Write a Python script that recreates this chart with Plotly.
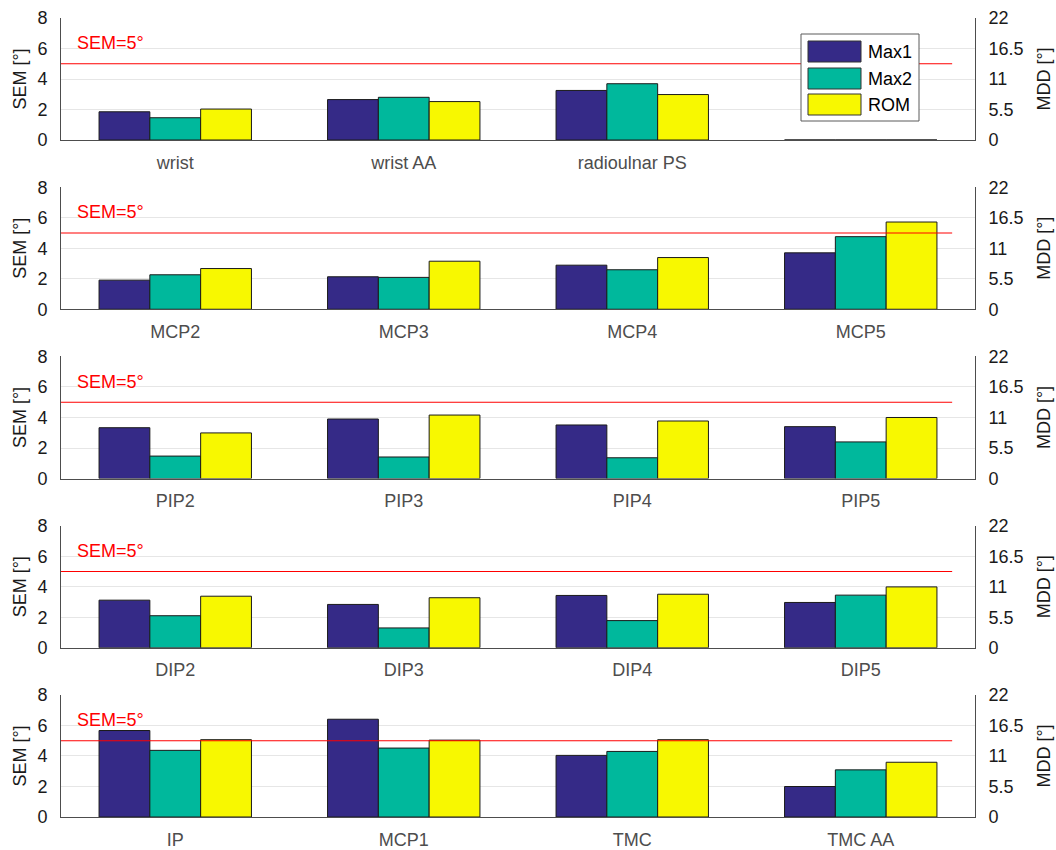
import plotly.graph_objects as go

# ---------------- data ----------------
categories = [
    ["wrist", "wrist AA", "radioulnar PS", ""],
    ["MCP2", "MCP3", "MCP4", "MCP5"],
    ["PIP2", "PIP3", "PIP4", "PIP5"],
    ["DIP2", "DIP3", "DIP4", "DIP5"],
    ["IP", "MCP1", "TMC", "TMC AA"],
]
max1 = [
    [1.85, 2.65, 3.25, 0.0],
    [1.91, 2.13, 2.89, 3.70],
    [3.33, 3.90, 3.51, 3.40],
    [3.12, 2.84, 3.43, 2.97],
    [5.67, 6.41, 4.04, 2.00],
]
max2 = [
    [1.46, 2.80, 3.69, 0.0],
    [2.26, 2.09, 2.59, 4.76],
    [1.47, 1.41, 1.36, 2.40],
    [2.10, 1.30, 1.78, 3.45],
    [4.37, 4.52, 4.30, 3.09],
]
rom = [
    [2.03, 2.52, 2.98, 0.0],
    [2.67, 3.15, 3.39, 5.72],
    [2.99, 4.16, 3.77, 4.00],
    [3.38, 3.28, 3.51, 3.99],
    [5.07, 5.04, 5.07, 3.59],
]
series_names = ["Max1", "Max2", "ROM"]
series_colors = ["#352A87", "#00B89C", "#F8F800"]
sem_ticks = [0, 2, 4, 6, 8]
mdd_ticks = [0, 5.5, 11, 16.5, 22]
mdd_ticklabels = ["0", "5.5", "11", "16.5", "22"]
sem_threshold = 5
threshold_label = "SEM=5°"

# ---------------- layout constants ----------------
FONT = "Liberation Sans, Arial, sans-serif"
FS = 18
W, H = 1056, 850
ML, MR, MT, MB = 61, 81, 18, 33
PW, PH = W - ML - MR, H - MT - MB
n_panels = len(categories)
panel_h = 0.1527
panel_step = (1 - panel_h) / (n_panels - 1)
AXCOL = "#4d4d4d"

fig = go.Figure()
all_series = [max1, max2, rom]

layout = dict(
    width=W, height=H,
    margin=dict(l=ML, r=MR, t=MT, b=MB, autoexpand=False),
    paper_bgcolor="white", plot_bgcolor="white",
    barmode="group", bargap=0.333, bargroupgap=0,
    showlegend=False,
    font=dict(family=FONT, size=FS, color="#1a1a1a"),
)
shapes = []
annotations = []

for p in range(n_panels):
    k = p + 1
    kr = p + 1 + n_panels
    xa = "x" if k == 1 else f"x{k}"
    ya = "y" if k == 1 else f"y{k}"
    yr = f"y{kr}"
    top = 1 - p * panel_step
    dom = [max(0, top - panel_h), min(1, top)]
    xs = list(range(1, len(categories[p]) + 1))
    for s, vals in enumerate(all_series):
        fig.add_trace(go.Bar(
            x=xs, y=vals[p], name=series_names[s],
            marker=dict(color=series_colors[s], line=dict(color="#1a1a1a", width=1)),
            xaxis=xa, yaxis=ya, offsetgroup=str(s), hoverinfo="skip",
        ))
    # invisible trace on right axis to make it render
    fig.add_trace(go.Scatter(x=[None], y=[None], xaxis=xa, yaxis=yr,
                             showlegend=False, hoverinfo="skip"))
    layout[f"xaxis{k}"] = dict(
        domain=[0, 1], anchor=ya, range=[0.5, 4.5],
        tickvals=xs, ticktext=categories[p],
        tickfont=dict(size=FS, color="#4d4d4d", family=FONT),
        showline=True, linecolor=AXCOL, linewidth=1,
        showgrid=False, zeroline=False, ticks="",
        ticklabelstandoff=6, fixedrange=True, automargin=False,
    )
    layout[f"yaxis{k}"] = dict(
        domain=dom, anchor=xa, range=[0, 8],
        tickvals=sem_ticks,
        tickfont=dict(size=FS, color="#1a1a1a", family=FONT),
        showline=True, linecolor=AXCOL, linewidth=1,
        showgrid=True, gridcolor="#e6e6e6", gridwidth=1,
        zeroline=False, ticks="", ticklabelstandoff=9,
        title=dict(text="SEM [°]", font=dict(size=FS, color="#1a1a1a", family=FONT), standoff=6),
        fixedrange=True, automargin=False,
    )
    layout[f"yaxis{kr}"] = dict(
        overlaying=ya, anchor=xa, side="right", range=[0, 22],
        tickvals=mdd_ticks, ticktext=mdd_ticklabels,
        tickfont=dict(size=FS, color="#1a1a1a", family=FONT),
        showline=True, linecolor=AXCOL, linewidth=1,
        showgrid=False, zeroline=False, ticks="", ticklabelstandoff=9,
        title=dict(text="MDD [°]", font=dict(size=FS, color="#1a1a1a", family=FONT), standoff=14),
        fixedrange=True, automargin=False,
    )
    shapes.append(dict(type="line", xref=xa, yref=ya, x0=0.5, x1=4.4,
                       y0=sem_threshold, y1=sem_threshold,
                       line=dict(color="#ff0000", width=1.2), layer="above"))
    annotations.append(dict(xref=xa, yref=ya, x=0.56, y=6.35, text=threshold_label,
                            showarrow=False, xanchor="left", yanchor="middle",
                            font=dict(size=FS, color="#ff0000", family=FONT)))

# ---------------- legend (drawn in top panel) ----------------
def px_x(px):
    return (px - ML) / PW

def px_y(py):
    return (H - MB - py) / PH

shapes.append(dict(type="rect", xref="paper", yref="paper",
                   x0=px_x(801), x1=px_x(919), y0=px_y(121), y1=px_y(34),
                   fillcolor="white", line=dict(color="#5a5a5a", width=1), layer="above"))
row_top = [41, 68, 94]
for i, name in enumerate(series_names):
    y0, y1 = row_top[i], row_top[i] + 21
    shapes.append(dict(type="rect", xref="paper", yref="paper",
                       x0=px_x(808), x1=px_x(861), y0=px_y(y1), y1=px_y(y0),
                       fillcolor=series_colors[i], line=dict(color="#333333", width=1),
                       layer="above"))
    annotations.append(dict(xref="paper", yref="paper", x=px_x(866), y=px_y((y0 + y1) / 2),
                            text=name, showarrow=False, xanchor="left", yanchor="middle",
                            font=dict(size=FS, color="#000000", family=FONT)))

layout["shapes"] = shapes
layout["annotations"] = annotations
fig.update_layout(**layout)
fig.write_html("out.html", config={"displayModeBar": False},
               post_script="document.body.style.margin='0';document.body.style.overflow='hidden';")
